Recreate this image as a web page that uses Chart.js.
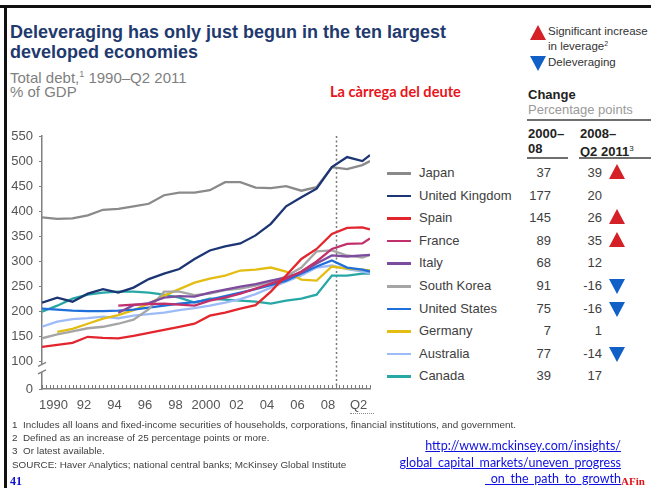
<!DOCTYPE html>
<html><head><meta charset="utf-8">
<script src="https://cdn.jsdelivr.net/npm/chart.js@4.4.1/dist/chart.umd.min.js"></script>
<style>
html,body{margin:0;padding:0;}
body{width:651px;height:488px;position:relative;overflow:hidden;background:#fff;font-family:"Liberation Sans",Arial,sans-serif;color:#404040;}
.t{position:absolute;white-space:nowrap;}
#frameTop{position:absolute;left:0;top:5px;width:651px;height:3px;background:#111;}
#frameLeft{position:absolute;left:4px;top:5px;width:3px;height:483px;background:#111;}
#title{left:10px;top:22px;font-size:18px;font-weight:bold;color:#1F3A6E;line-height:20px;}
.sub{left:10px;font-size:15px;color:#7F7F7F;line-height:18px;}
#catalan{left:330px;top:83px;font-family:Lato,"Open Sans",sans-serif;font-weight:bold;font-size:14.6px;color:#E8141B;line-height:17px;}
.tri-up{position:absolute;width:0;height:0;border-left:8px solid transparent;border-right:8px solid transparent;border-bottom:15px solid #D42026;}
.tri-down{position:absolute;width:0;height:0;border-left:8px solid transparent;border-right:8px solid transparent;border-top:15px solid #1060C8;}
.lg{font-size:11.5px;color:#333;line-height:13px;left:548px;}
.hdr{font-size:13px;line-height:15px;}
.rule{position:absolute;background:#6f6f6f;}
.row{position:absolute;left:0;width:651px;height:20px;}
.sw{position:absolute;left:387px;top:9px;width:24px;height:2.5px;}
.nm{position:absolute;left:419px;top:2px;font-size:13px;color:#404040;line-height:16px;white-space:nowrap;}
.n1{position:absolute;right:100px;top:2px;font-size:13px;color:#404040;line-height:16px;}
.n2{position:absolute;right:49px;top:2px;font-size:13px;color:#404040;line-height:16px;}
.fn{left:12px;font-size:9.9px;color:#404040;line-height:12px;}
.lnk{right:30px;font-family:Lato,sans-serif;font-size:12.5px;color:#1010E0;text-decoration:underline;line-height:15px;}
</style></head><body>
<div id="frameTop"></div><div id="frameLeft"></div>
<div class="t" id="title">Deleveraging has only just begun in the ten largest<br>developed economies</div>
<div class="t sub" style="top:65px">Total debt,<sup style="font-size:9px;vertical-align:6px">1</sup> 1990–Q2 2011</div>
<div class="t sub" style="top:83px">% of GDP</div>
<div class="t" id="catalan">La càrrega del deute</div>

<div class="tri-up" style="left:530px;top:25px"></div>
<div class="t lg" style="top:25px">Significant increase</div>
<div class="t lg" style="top:37px">in leverage<sup style="font-size:7px;vertical-align:4px">2</sup></div>
<div class="tri-down" style="left:530px;top:56px"></div>
<div class="t lg" style="top:56px">Deleveraging</div>

<div class="t hdr" style="left:528px;top:87px;font-weight:bold;color:#222">Change</div>
<div class="t hdr" style="left:528px;top:102px;color:#9a9a9a">Percentage points</div>
<div class="rule" style="left:527px;top:119px;width:124px;height:2px"></div>
<div class="t hdr" style="left:528px;top:126px;font-weight:bold;color:#222">2000–<br>08</div>
<div class="t hdr" style="left:580px;top:126px;font-weight:bold;color:#222">2008–<br>Q2 2011<sup style="font-size:8px;vertical-align:5px;font-weight:normal">3</sup></div>
<div class="rule" style="left:527px;top:157px;width:41px;height:1.5px"></div>
<div class="rule" style="left:579px;top:157px;width:72px;height:1.5px"></div>

<div id="rows"></div>

<div style="position:absolute;left:0;top:120px;width:385px;height:300px"><canvas id="c" width="385" height="300"></canvas></div>
<div style="position:absolute;left:350px;top:413px;width:24px;height:0;border-top:1.5px dotted #888"></div>

<div class="t fn" style="top:419px">1&nbsp; Includes all loans and fixed-income securities of households, corporations, financial institutions, and government.</div>
<div class="t fn" style="top:432px">2&nbsp; Defined as an increase of 25 percentage points or more.</div>
<div class="t fn" style="top:445px">3&nbsp; Or latest available.</div>
<div class="t fn" style="top:459px">SOURCE: Haver Analytics; national central banks; McKinsey Global Institute</div>
<div class="t" style="left:10px;top:474px;font-family:'Liberation Serif',serif;font-weight:bold;font-size:12px;color:#1010D0;">41</div>
<div class="t lnk" style="top:438px">http://www.mckinsey.com/insights/</div>
<div class="t lnk" style="top:455px">global_capital_markets/uneven_progress</div>
<div class="t lnk" style="top:471px">_on_the_path_to_growth</div>
<div class="t" style="left:621px;top:475px;font-family:'Liberation Serif',serif;font-weight:bold;font-size:11px;color:#E0141B;">AFin</div>

<script>
// ---- data ----
const years = [1990,1991,1992,1993,1994,1995,1996,1997,1998,1999,2000,2001,2002,2003,2004,2005,2006,2007,2008,2009,2010,2011,2011.5];
const countries = ['Japan','United Kingdom','Spain','France','Italy','South Korea','United States','Germany','Australia','Canada'];
const japan     = [388,385,386,392,403,405,410,415,432,437,437,442,458,458,447,446,450,441,448,488,484,492,500];
const uk        = [218,228,220,236,245,238,248,265,276,285,305,322,330,336,352,375,410,428,445,488,508,500,512];
const spain     = [130,134,138,150,148,147,152,158,164,170,176,192,198,206,213,240,272,305,325,355,367,368,364];
const france    = [null,null,null,null,null,212,214,215,216,214,212,222,228,236,246,256,266,280,300,325,335,336,346];
const italy     = [null,null,null,null,null,198,213,217,228,231,230,238,244,250,255,262,268,278,296,312,310,312,313];
const korea     = [147,155,161,167,170,176,184,205,240,240,233,236,243,246,252,260,270,288,320,322,312,308,313];
const us        = [206,204,202,201,201,202,204,208,212,216,219,224,231,238,245,253,262,276,290,302,288,284,280];
const germany   = [null,160,166,176,186,193,203,216,232,245,258,266,272,282,284,288,280,264,262,290,286,284,282];
const australia = [170,180,185,187,190,187,192,195,198,203,207,212,218,225,235,248,260,272,288,292,285,280,277];
const canada    = [200,212,226,234,238,240,240,238,234,228,218,226,224,222,220,216,222,226,234,272,272,276,276];
const seriesValues = [japan,uk,spain,france,italy,korea,us,germany,australia,canada];
const colors = ['#8A8A8A','#1C3573','#E3262E','#C2306B','#7E4C9F','#A5A5A5','#1F6FDA','#E3BD12','#9DBBF6','#27A7A5'];
const change2000to08 = [37,177,145,89,68,91,75,7,77,39];
const change2008toQ2_2011 = [39,20,26,35,12,-16,-16,1,-14,17];
const leverageSignal = ['up','','up','up','','down','down','','down',''];
const yTicks = [0,100,150,200,250,300,350,400,450,500,550];
const labelYears = [1990,1992,1994,1996,1998,2000,2002,2004,2006,2008,2010];
const xTickLabels = ['1990','92','94','96','98','2000','02','04','06','08','Q2'];
const yAxisFloor = 46;      // value shown as "0" below the axis break
const dividerYear = 2009.3; // dotted divider (2008 | 2008–Q2 2011)

// ---- legend table ----
const rows = document.getElementById('rows');
countries.forEach((name, i) => {
  const r = document.createElement('div');
  r.className = 'row';
  r.style.top = (163 + i * 22.6) + 'px';
  r.innerHTML = `<div class="sw" style="background:${colors[i]}"></div><div class="nm">${name}</div>` +
    `<div class="n1">${change2000to08[i]}</div><div class="n2">${change2008toQ2_2011[i]}</div>`;
  if (leverageSignal[i]) {
    const tri = document.createElement('div');
    tri.className = leverageSignal[i] === 'up' ? 'tri-up' : 'tri-down';
    tri.style.left = '609px';
    tri.style.top = leverageSignal[i] === 'up' ? '1px' : '3px';
    r.appendChild(tri);
  }
  rows.appendChild(r);
});

// ---- chart ----
const quarterTicks = [];
for (let q = 0; q <= 86; q++) quarterTicks.push(1990 + q * 0.25);
const labelAt = {};
labelYears.forEach((y, i) => { labelAt[y + 0.75] = xTickLabels[i]; });

const datasets = countries.map((name, i) => ({
  label: name,
  data: years.map((x, k) => ({x: x, y: seriesValues[i][k]})).filter(p => p.y !== null),
  borderColor: colors[i],
  borderWidth: 2.3,
  pointRadius: 0,
  tension: 0,
  fill: false,
  order: name === 'United Kingdom' ? -1 : i
}));

const decor = {
  id: 'decor',
  beforeDatasetsDraw(chart) {
    const {ctx, chartArea, scales} = chart;
    const x = scales.x;
    ctx.save();
    ctx.strokeStyle = '#7a7a7a';
    ctx.lineWidth = 1;
    quarterTicks.forEach(v => {
      const px = Math.round(x.getPixelForValue(v)) + 0.5;
      ctx.beginPath();
      ctx.moveTo(px, chartArea.bottom);
      ctx.lineTo(px, chartArea.bottom - 4);
      ctx.stroke();
    });
    const dx = Math.round(x.getPixelForValue(dividerYear)) + 0.5;
    ctx.setLineDash([2, 2.5]);
    ctx.strokeStyle = '#777';
    ctx.lineWidth = 1.5;
    ctx.beginPath();
    ctx.moveTo(dx, chartArea.top);
    ctx.lineTo(dx, chartArea.bottom);
    ctx.stroke();
    ctx.restore();
  },
  afterDraw(chart) {
    const {ctx, chartArea, scales} = chart;
    const y = scales.y;
    const yTop = y.getPixelForValue(95), yBot = y.getPixelForValue(80);
    const ax = chartArea.left;
    ctx.save();
    ctx.fillStyle = '#fff';
    ctx.fillRect(ax - 2, yTop, 4, yBot - yTop);
    ctx.strokeStyle = '#808080';
    ctx.lineWidth = 1.3;
    ctx.beginPath();
    ctx.moveTo(ax - 4, yTop + 2); ctx.lineTo(ax + 4, yTop - 2);
    ctx.moveTo(ax - 4, yBot + 2); ctx.lineTo(ax + 4, yBot - 2);
    ctx.stroke();
    ctx.restore();
  }
};

new Chart(document.getElementById('c'), {
  type: 'line',
  data: {datasets},
  options: {
    responsive: false,
    animation: false,
    devicePixelRatio: 1,
    layout: {padding: {top: 16, right: 15, left: 0, bottom: 0}},
    plugins: {legend: {display: false}, tooltip: {enabled: false}},
    scales: {
      x: {
        type: 'linear', min: 1990, max: 2011.5,
        afterBuildTicks: s => { s.ticks = quarterTicks.map(v => ({value: v})); },
        ticks: {
          autoSkip: false, maxRotation: 0, minRotation: 0, padding: 9,
          color: '#555', font: {family: 'Liberation Sans', size: 13},
          callback: v => labelAt[v] || ''
        },
        grid: {display: false, drawTicks: false},
        border: {display: true, color: '#808080', width: 1.5},
        afterFit: s => { s.height = 31; }
      },
      y: {
        type: 'linear', min: yAxisFloor, max: 550,
        afterBuildTicks: s => { s.ticks = yTicks.map(v => ({value: v === 0 ? yAxisFloor : v})); },
        ticks: {
          padding: 6, color: '#555', font: {family: 'Liberation Sans', size: 13},
          callback: v => v === yAxisFloor ? '0' : String(v)
        },
        grid: {display: true, drawOnChartArea: false, drawTicks: true, tickLength: 3, color: '#808080', lineWidth: 1},
        border: {display: true, color: '#808080', width: 1.5},
        afterFit: s => { s.width = 42; }
      }
    }
  },
  plugins: [decor]
});
</script>
</body></html>
